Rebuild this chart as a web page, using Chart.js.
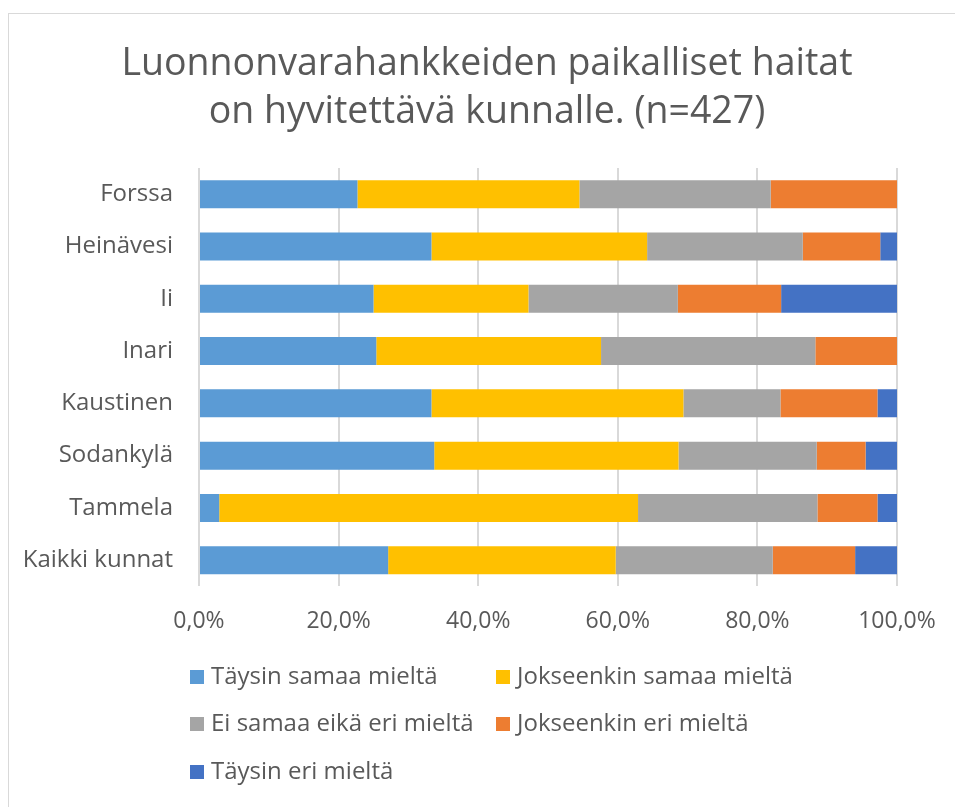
<!DOCTYPE html>
<html>
<head>
<meta charset="utf-8">
<script src="https://cdn.jsdelivr.net/npm/chart.js@4"></script>
<style>
  html, body { margin: 0; padding: 0; background: #fff; }
  #wrap { width: 955px; height: 807px; }
</style>
</head>
<body>
<div id="wrap"><canvas id="chart" width="955" height="807"></canvas></div>
<script>
// Kunnat (categories)
const municipalities = ["Forssa", "Heinävesi", "Ii", "Inari", "Kaustinen", "Sodankylä", "Tammela", "Kaikki kunnat"];

// Vastaukset, % per kunta
const taysinSamaa     = [22.7, 33.3, 25.0, 25.4, 33.3, 33.7, 2.9, 27.1];
const jokseenkinSamaa = [31.8, 30.9, 22.2, 32.2, 36.1, 35.0, 60.0, 32.6];
const eiSamaaEikaEri  = [27.4, 22.3, 21.4, 30.7, 13.9, 19.8, 25.7, 22.5];
const jokseenkinEri   = [18.1, 11.1, 14.8, 11.7, 13.9, 7.0, 8.6, 11.8];
const taysinEri       = [0.0, 2.4, 16.6, 0.0, 2.8, 4.6, 2.9, 6.0];

const seriesNames = ["Täysin samaa mieltä", "Jokseenkin samaa mieltä", "Ei samaa eikä eri mieltä", "Jokseenkin eri mieltä", "Täysin eri mieltä"];
const seriesColors = ["#5B9BD5", "#FFC000", "#A5A5A5", "#ED7D31", "#4472C4"];

const titleLines = ["Luonnonvarahankkeiden paikalliset haitat", "on hyvitettävä kunnalle. (n=427)"];
const textColor = "#595959";
const fontFamily = "'Open Sans', 'Noto Sans', sans-serif";

const seriesValues = [taysinSamaa, jokseenkinSamaa, eiSamaaEikaEri, jokseenkinEri, taysinEri];

// frame + Excel style legend in two columns at the bottom
const excelLook = {
  id: "excelLook",
  beforeDraw(chart) {
    const ctx = chart.ctx;
    ctx.save();
    ctx.strokeStyle = "#d9d9d9";
    ctx.lineWidth = 1;
    ctx.strokeRect(8.5, 13.5, 1000, 1000);
    ctx.restore();
  },
  afterDraw(chart) {
    const ctx = chart.ctx;
    const colX = [190, 496];
    const rowY = [677, 724, 772];
    ctx.save();
    ctx.font = "24px " + fontFamily;
    ctx.textBaseline = "middle";
    ctx.textAlign = "left";
    chart.data.datasets.forEach((ds, i) => {
      const x = colX[i % 2];
      const y = rowY[Math.floor(i / 2)];
      ctx.fillStyle = ds.backgroundColor;
      ctx.fillRect(x, y - 7, 14, 14);
      ctx.fillStyle = textColor;
      ctx.fillText(ds.label, x + 21, y);
    });
    ctx.restore();
  }
};

new Chart(document.getElementById("chart"), {
  type: "bar",
  plugins: [excelLook],
  data: {
    labels: municipalities,
    datasets: seriesNames.map((name, i) => ({
      label: name,
      data: seriesValues[i],
      backgroundColor: seriesColors[i],
      borderWidth: 0,
      barPercentage: 0.536,
      categoryPercentage: 1
    }))
  },
  options: {
    indexAxis: "y",
    responsive: false,
    animation: false,
    layout: { padding: { left: 19, right: 0, top: 0, bottom: 151 } },
    plugins: {
      legend: { display: false },
      tooltip: { enabled: false },
      title: {
        display: true,
        text: titleLines,
        color: textColor,
        font: { family: fontFamily, size: 37.5, weight: "normal", lineHeight: 1.28 },
        padding: { top: 40, bottom: 32 }
      }
    },
    scales: {
      x: {
        stacked: true,
        min: 0,
        max: 100,
        ticks: {
          stepSize: 20,
          color: textColor,
          padding: 21,
          font: { family: fontFamily, size: 23 },
          callback: (v) => v.toFixed(1).replace(".", ",") + "%"
        },
        grid: { color: "#d9d9d9", lineWidth: 2, drawTicks: false },
        border: { display: false },
        afterFit: (scale) => { scale.paddingRight = 58; }
      },
      y: {
        stacked: true,
        ticks: {
          color: textColor,
          padding: 26,
          font: { family: fontFamily, size: 24 }
        },
        grid: { display: false, drawTicks: false },
        border: { display: false },
        afterFit: (scale) => { scale.width = 180; }
      }
    }
  }
});
</script>
</body>
</html>
